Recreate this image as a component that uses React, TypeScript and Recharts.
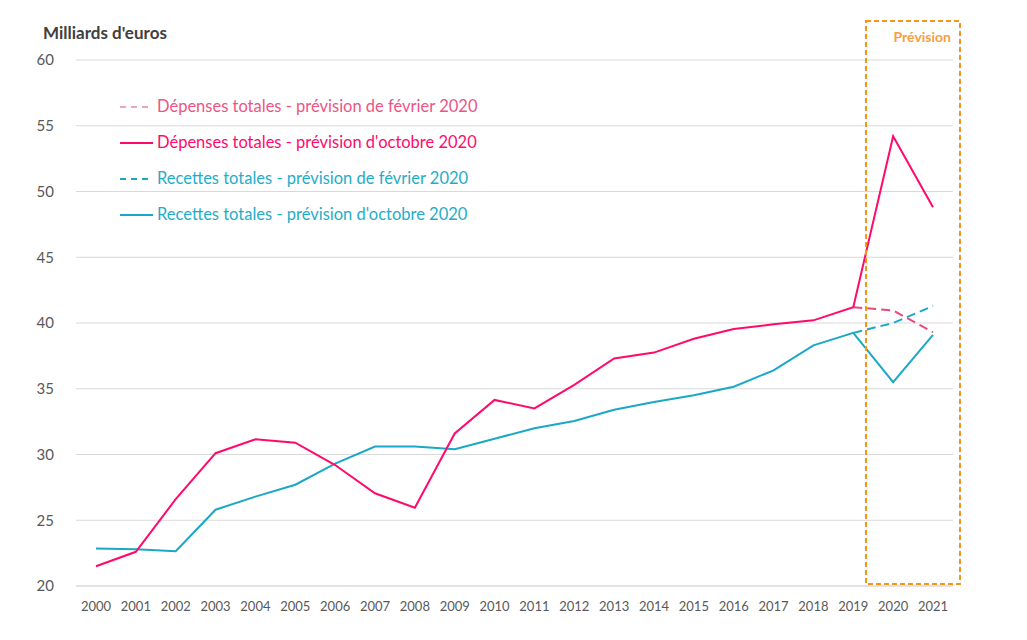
import React from "react";
import { LineChart, Line, XAxis, YAxis, CartesianGrid } from "recharts";

const years = ["2000","2001","2002","2003","2004","2005","2006","2007","2008","2009","2010","2011","2012","2013","2014","2015","2016","2017","2018","2019","2020","2021"];
const depensesOct = [21.5,22.6,26.6,30.1,31.15,30.9,29.2,27.05,25.95,31.6,34.15,33.5,35.3,37.3,37.75,38.8,39.55,39.9,40.2,41.2,54.2,48.8];
const recettesOct = [22.85,22.8,22.65,25.8,26.8,27.7,29.3,30.6,30.6,30.4,31.2,32.0,32.55,33.4,34.0,34.5,35.15,36.4,38.3,39.25,35.5,39.1];
const depensesFev: (number | null)[] = [null,null,null,null,null,null,null,null,null,null,null,null,null,null,null,null,null,null,null,41.2,40.95,39.3];
const recettesFev: (number | null)[] = [null,null,null,null,null,null,null,null,null,null,null,null,null,null,null,null,null,null,null,39.25,40.0,41.3];
const yTicks = [20,25,30,35,40,45,50,55,60];

const legendItems = [
  { label: "Dépenses totales - prévision de février 2020", color: "#EB5585", lineColor: "#F2A3BC", dashed: true },
  { label: "Dépenses totales - prévision d'octobre 2020", color: "#FF0A6C", lineColor: "#FF0A6C", dashed: false },
  { label: "Recettes totales - prévision de février 2020", color: "#1FADC9", lineColor: "#1AA8C6", dashed: true },
  { label: "Recettes totales - prévision d'octobre 2020", color: "#1FADC9", lineColor: "#1AA8C6", dashed: false },
];

const data = years.map((y, i) => ({
  year: y,
  depOct: depensesOct[i],
  recOct: recettesOct[i],
  depFev: depensesFev[i],
  recFev: recettesFev[i],
}));

const FONT = "Lato, 'Open Sans', sans-serif";

export default function App() {
  return (
    <div style={{ position: "absolute", left: 0, top: 0, width: 1027, height: 640, background: "#fff" }}>
      <LineChart width={1027} height={640} data={data} margin={{ top: 60, right: 74, bottom: 24, left: 26 }}>
        <CartesianGrid vertical={false} stroke="#d9d9d9" />
        <XAxis
          dataKey="year"
          height={30}
          padding={{ left: 20, right: 20 }}
          axisLine={{ stroke: "#d9d9d9" }}
          tickLine={false}
          tickMargin={10}
          interval={0}
          tick={{ fill: "#595959", fontSize: 13, fontFamily: FONT }}
        />
        <YAxis
          width={50}
          domain={[20, 60]}
          ticks={yTicks}
          axisLine={false}
          tickLine={false}
          tickMargin={16}
          tick={{ fill: "#595959", fontSize: 15, fontFamily: FONT }}
        />
        <Line dataKey="depFev" stroke="#E8487C" strokeWidth={2} strokeDasharray="9 5" dot={false} type="linear" isAnimationActive={false} connectNulls={false} />
        <Line dataKey="recFev" stroke="#1AA8C6" strokeWidth={2} strokeDasharray="9 5" dot={false} type="linear" isAnimationActive={false} connectNulls={false} />
        <Line dataKey="recOct" stroke="#1AA8C6" strokeWidth={2} dot={false} type="linear" isAnimationActive={false} />
        <Line dataKey="depOct" stroke="#FF0A6C" strokeWidth={2} dot={false} type="linear" isAnimationActive={false} />
      </LineChart>
      <svg width={1027} height={640} style={{ position: "absolute", left: 0, top: 0, pointerEvents: "none" }}>
        <text x={43} y={39} fontFamily={FONT} fontSize={17} fontWeight="bold" fill="#404040">Milliards d'euros</text>
        <rect x={866} y={21} width={94} height={563} fill="none" stroke="#F7941D" strokeWidth={2} strokeDasharray="5 3" />
        <text x={951} y={42} textAnchor="end" fontFamily={FONT} fontSize={14} fontWeight="bold" fill="#F7A040">Prévision</text>
        {legendItems.map((it, i) => {
          const y = 107 + i * 36;
          return (
            <g key={i}>
              <line x1={120} x2={153} y1={y} y2={y} stroke={it.lineColor} strokeWidth={2} strokeDasharray={it.dashed ? "6 5" : undefined} />
              <text x={157} y={y + 5} fontFamily={FONT} fontSize={16.5} fill={it.color}>{it.label}</text>
            </g>
          );
        })}
      </svg>
    </div>
  );
}
